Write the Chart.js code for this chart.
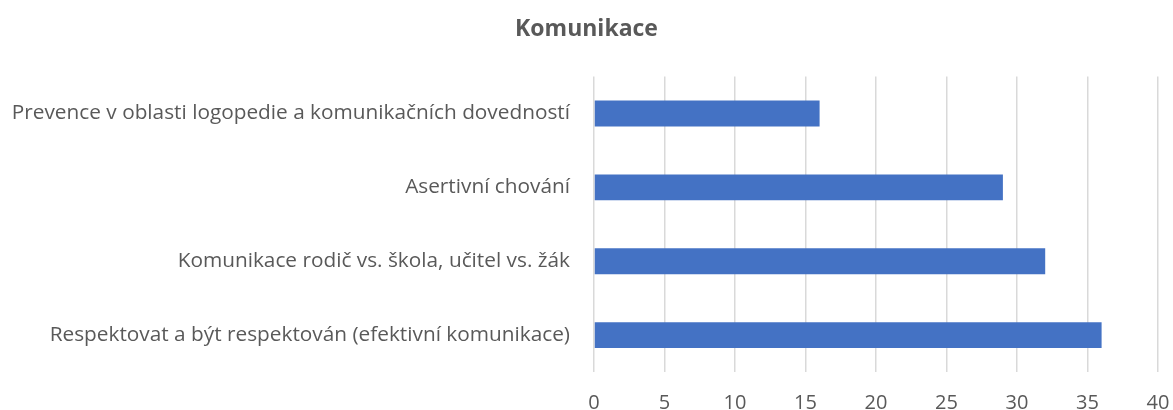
<!DOCTYPE html>
<html>
<head>
<meta charset="utf-8">
<script src="https://cdn.jsdelivr.net/npm/chart.js@4"></script>
<style>
  html, body { margin: 0; padding: 0; background: #fff; }
  #wrap { width: 1173px; height: 410px; }
</style>
</head>
<body>
<div id="wrap"><canvas id="chart"></canvas></div>
<script>
        // data
        const chartTitle = 'Komunikace';
        const categories = [
            'Prevence v oblasti logopedie a komunikačních dovedností',
            'Asertivní chování',
            'Komunikace rodič vs. škola, učitel vs. žák',
            'Respektovat a být respektován (efektivní komunikace)'
        ];
        const counts = [16, 29, 32, 36];
        const xMin = 0;
        const xMax = 40;
        const xStep = 5;

        const textColor = '#595959';
        const fontFamily = '"Open Sans", "Noto Sans", sans-serif';

        const ctx = document.getElementById('chart').getContext('2d');
        new Chart(ctx, {
            type: 'bar',
            data: {
                labels: categories,
                datasets: [{
                    label: chartTitle,
                    data: counts,
                    backgroundColor: '#4472C4',
                    borderWidth: 0,
                    barPercentage: 0.35,
                    categoryPercentage: 1
                }]
            },
            options: {
                indexAxis: 'y',
                responsive: true,
                maintainAspectRatio: false,
                animation: false,
                layout: {
                    padding: { left: 0, right: 0, top: 0, bottom: 0 }
                },
                plugins: {
                    legend: { display: false },
                    tooltip: { enabled: false },
                    title: {
                        display: true,
                        text: chartTitle,
                        color: textColor,
                        font: { family: fontFamily, size: 23, weight: 'bold', lineHeight: 1.2 },
                        padding: { top: 16, bottom: 33 }
                    }
                },
                scales: {
                    x: {
                        min: xMin,
                        max: xMax,
                        ticks: {
                            stepSize: xStep,
                            color: textColor,
                            font: { family: fontFamily, size: 20 },
                            padding: 19
                        },
                        grid: {
                            color: '#d9d9d9',
                            lineWidth: 1.5,
                            drawTicks: false
                        },
                        border: { display: false },
                        afterFit: (scale) => {
                            scale.height = 38;
                            scale.paddingRight = 15;
                        }
                    },
                    y: {
                        ticks: {
                            color: textColor,
                            font: { family: fontFamily, size: 20.8 },
                            padding: 16
                        },
                        grid: { display: false },
                        border: { display: false },
                        afterFit: (scale) => { scale.width = 594; }
                    }
                }
            }
        });
</script>
</body>
</html>
